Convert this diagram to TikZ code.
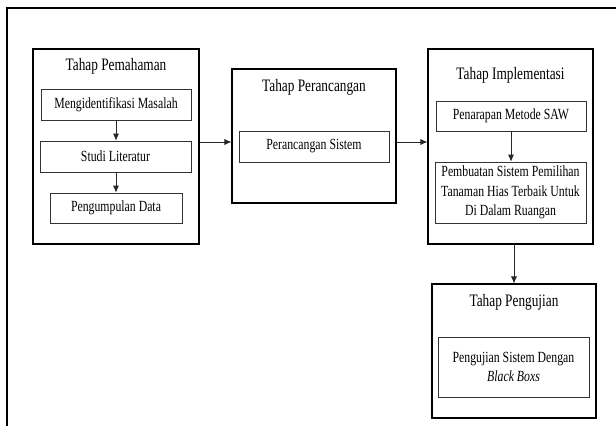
\documentclass[tikz,border=0pt]{standalone}
\usepackage{fontspec}
\setmainfont{Liberation Serif}[FakeStretch=0.76]
\usetikzlibrary{arrows.meta}
\begin{document}
\begin{tikzpicture}[x=1pt,y=-1pt,
  outerbox/.style={draw=black,line width=1.1pt,minimum width=#1,inner sep=0pt},
  innerbox/.style={draw=black!80,line width=0.7pt,inner sep=2pt,align=center,font=\fontsize{15.5}{19.5}\selectfont},
  ttl/.style={font=\fontsize{17.5}{20}\selectfont,inner sep=0pt},
  arr/.style={-{Latex[length=7pt,width=6pt]},line width=0.7pt,draw=black!85}
]
\useasboundingbox (0,0) rectangle (616,426);
\draw[line width=1.1pt] (7,426) -- (7,8) -- (616,8);

% Box 1
\node[outerbox=166pt,minimum height=195pt] (b1) at (116,146.5) {};
\node[ttl] (t1) at (116,66) {Tahap Pemahaman};
\node[innerbox,minimum width=150pt,minimum height=31pt] (m1) at (116,104.5) {Mengidentifikasi Masalah};
\node[innerbox,minimum width=151pt,minimum height=31pt] (s1) at (115.5,156.5) {Studi Literatur};
\node[innerbox,minimum width=132pt,minimum height=30pt] (p1) at (116,208) {Pengumpulan Data};

% Box 2
\node[outerbox=164pt,minimum height=134pt] (b2) at (314,136) {};
\node[ttl] (t2) at (314,87) {Tahap Perancangan};
\node[innerbox,minimum width=150pt,minimum height=31pt] (i2) at (314,146.5) {Perancangan Sistem};

% Box 3
\node[outerbox=165pt,minimum height=195pt] (b3) at (510.5,146.5) {};
\node[ttl] (t3) at (510.5,75) {Tahap Implementasi};
\node[innerbox,minimum width=150pt,minimum height=30pt] (i3a) at (511,116) {Penarapan Metode SAW};
\node[innerbox,minimum width=151pt,minimum height=61pt] (i3b) at (510.5,192.5) {Pembuatan Sistem Pemilihan\\Tanaman Hias Terbaik Untuk\\Di Dalam Ruangan};

% Box 4
\node[outerbox=164pt,minimum height=134pt] (b4) at (514,351) {};
\node[ttl] (t4) at (514,302) {Tahap Pengujian};
\node[innerbox,minimum width=151pt,minimum height=60pt] (i4) at (513.5,367) {Pengujian Sistem Dengan\\\textit{Black Boxs}};

% Connectors
\coordinate (row) at (0,142);
\draw[arr] (m1.south) -- (m1.south |- s1.north);
\draw[arr] (s1.south -| p1.north) -- (p1.north);
\draw[arr] (b1.east |- row) -- (b2.west |- row);
\draw[arr] (b2.east |- row) -- (b3.west |- row);
\draw[arr] (i3a.south) -- (i3a.south |- i3b.north);
\draw[arr] (b4.north |- b3.south) -- (b4.north);
\end{tikzpicture}
\end{document}
